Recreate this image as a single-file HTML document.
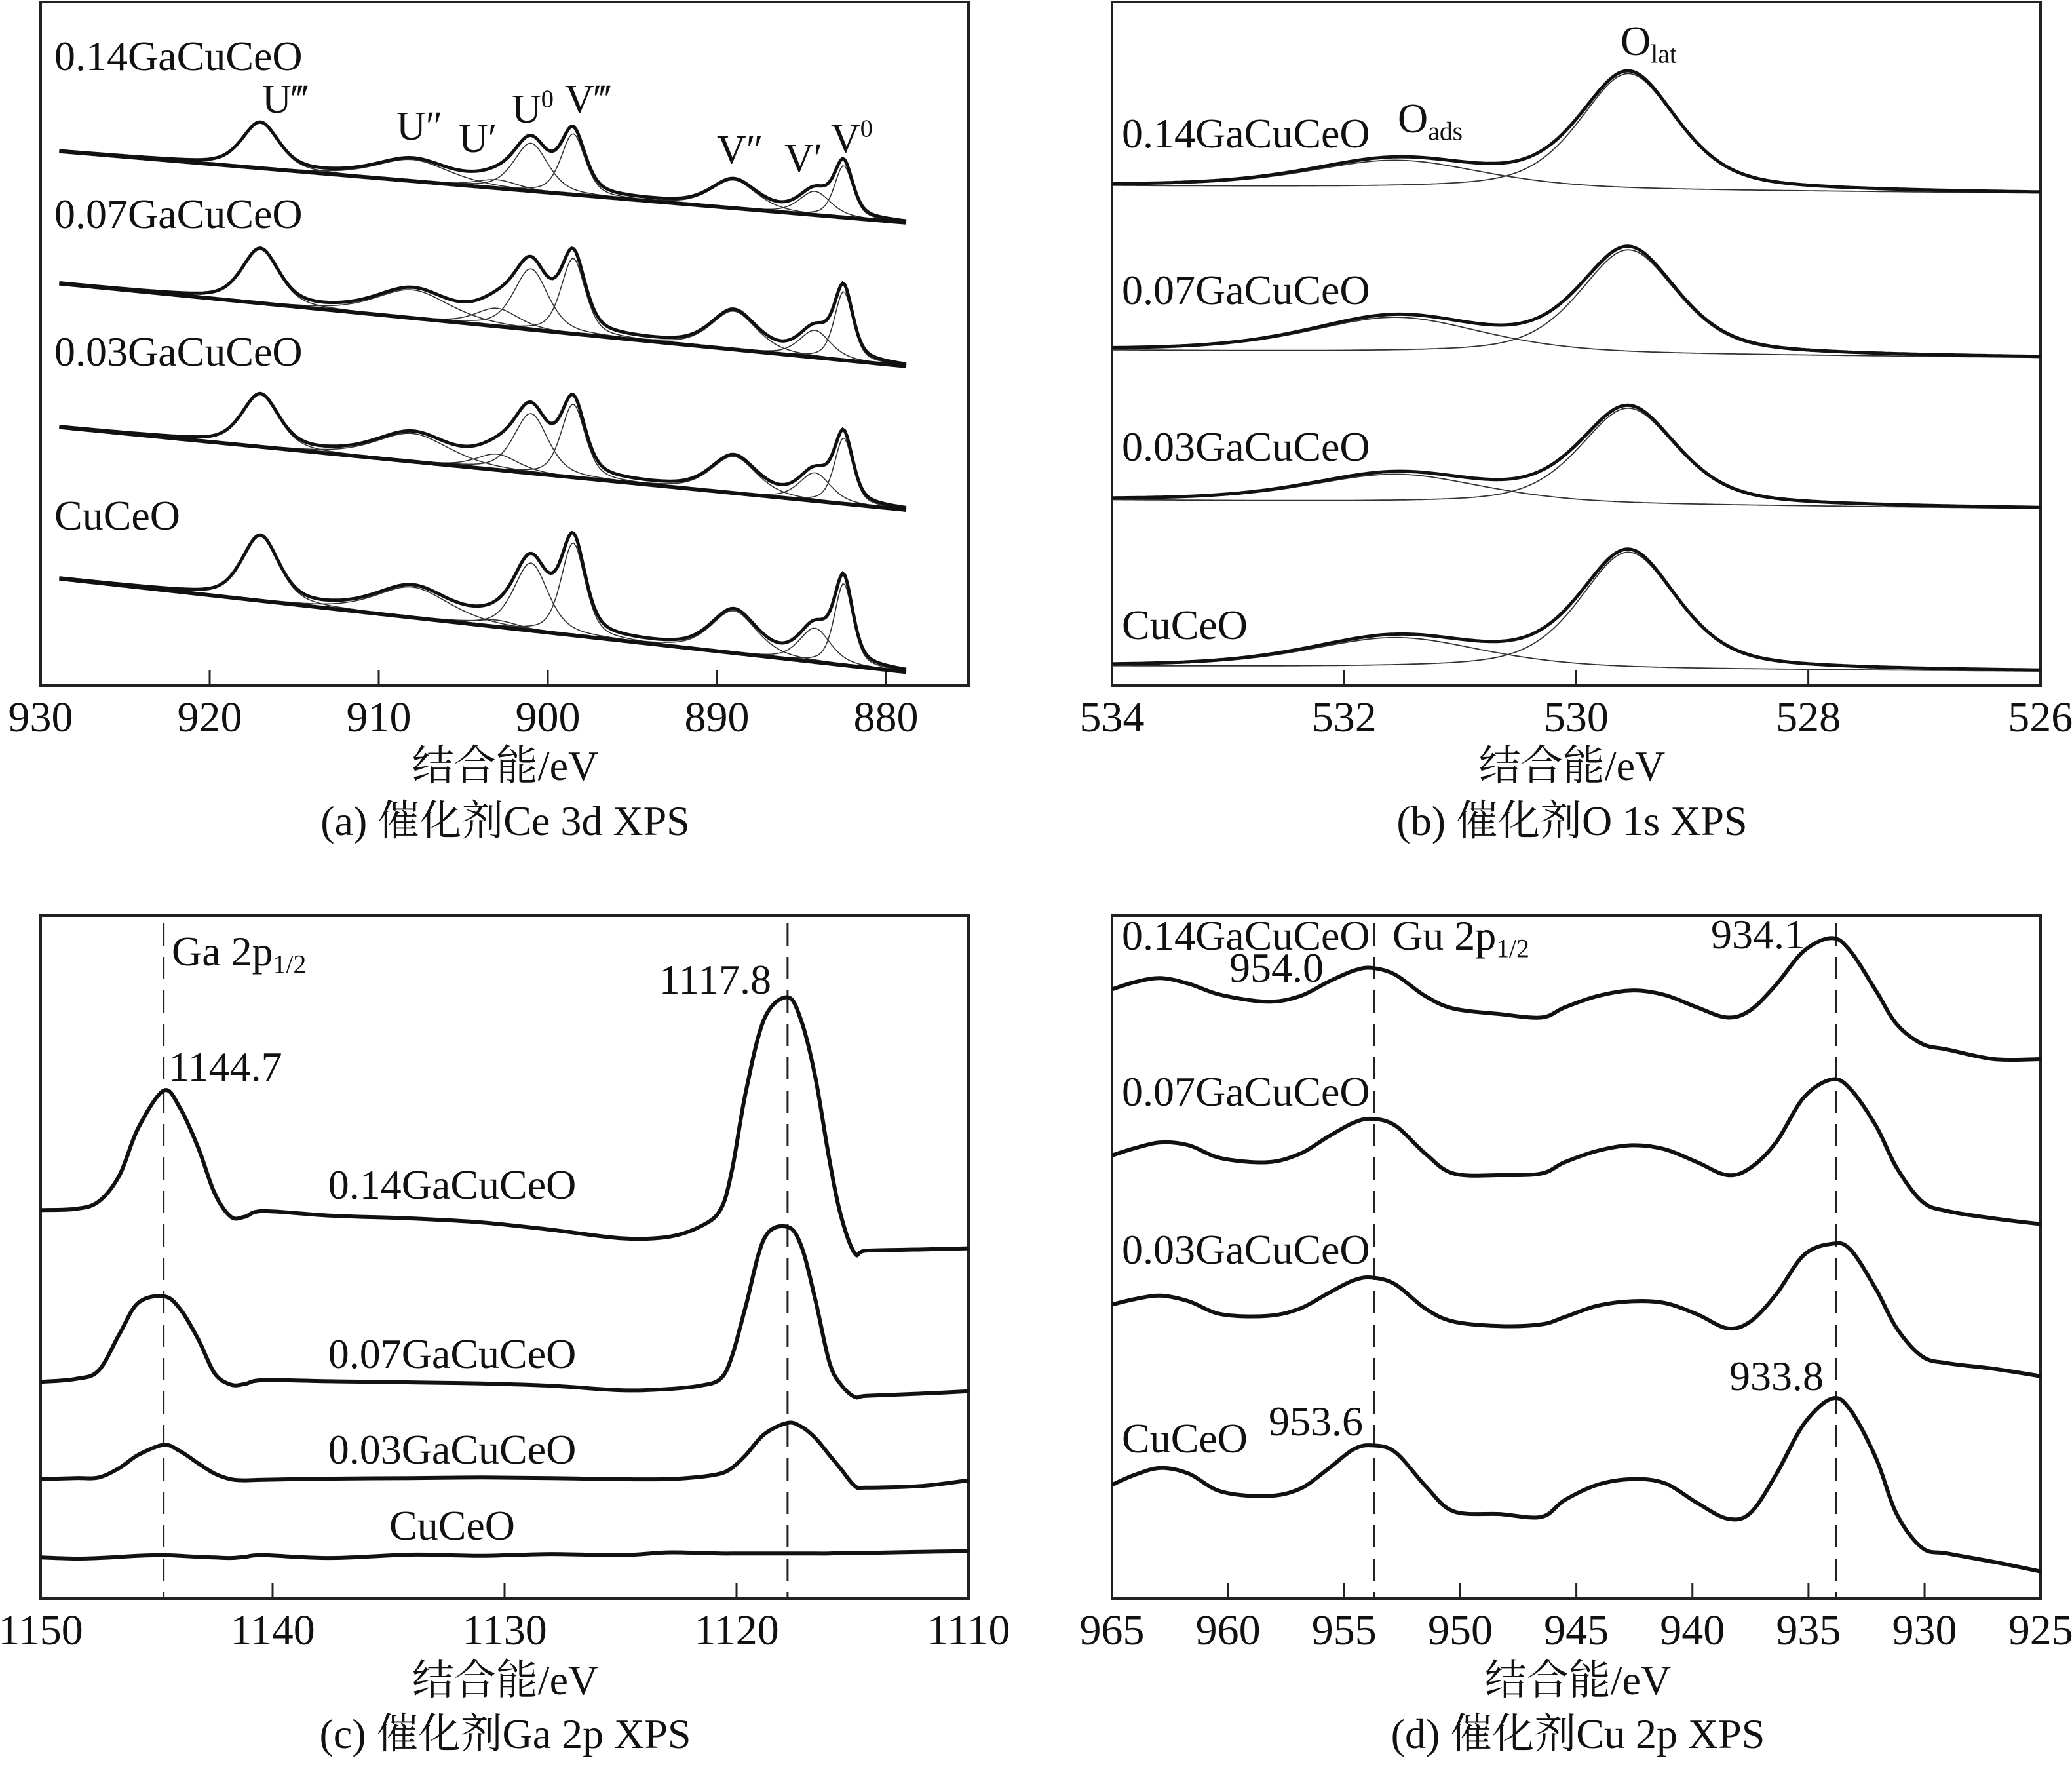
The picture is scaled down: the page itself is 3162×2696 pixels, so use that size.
<!DOCTYPE html>
<html><head><meta charset="utf-8">
<style>
html,body{margin:0;padding:0;background:#fff;}
svg{display:block;}
text{font-family:"Liberation Serif","Noto Serif CJK SC","Noto Sans CJK SC",serif;fill:#111;}
</style></head>
<body>
<svg id="fig" width="3162" height="2696" viewBox="0 0 3162 2696" xmlns="http://www.w3.org/2000/svg">
<g id="layer"></g>
</svg>
<script>
// ---------- Panel (a) Ce 3d ----------
const aCenters=[917.0,908.0,903.0,901.0,898.5,889.0,884.2,882.5];
const aWidths=[1.3,2.6,1.5,1.2,0.85,1.6,1.1,0.65];
const aNames=["0.14GaCuCeO","0.07GaCuCeO","0.03GaCuCeO","CuCeO"];
const aH014=[80,38,15,85,108,50,42,92];
const aH007=[95,50,32,108,134,68,48,122];
const aH003=[92,50,28,106,130,65,50,117];
const aHCu=[114,54,12,120,164,75,60,145];
const aBaseStart=[949,714,459,190];
const aBaseEnd=[822,567,312,24];
const aTicks=[930,920,910,900,890,880];
// ---------- Panel (b) O 1s ----------
const bNames=["0.14GaCuCeO","0.07GaCuCeO","0.03GaCuCeO","CuCeO"];
const bBaseStart=[887,595,329,34];
const bBaseEnd=[874,582,314,25];
const bAdsH=[50,63,51,54];
const bLatH=[207,186,172,208];
const bCenters=[531.55,529.55];
const bWidths=[0.9,0.5];
const bTicks=[534,532,530,528,526];
// ---------- Panel (c) Ga 2p ----------
const cE=[1150,1148.5,1147.5,1146.6,1145.8,1144.7,1144,1143.2,1142.5,1141.8,1141.2,1140.4,1137.5,1134,1131,1128,1125,1123,1121.6,1120.7,1120.2,1119.6,1118.8,1117.8,1117.2,1116.6,1116,1115.5,1114.9,1114.4,1112,1110];
const c014=[690,692,705,752,835,902,872,800,720,678,678,688,680,675,668,655,640,642,660,690,760,900,1030,1068,1025,925,780,680,613,618,620,622];
const c007=[385,390,405,470,525,537,515,460,400,380,381,388,386,384,382,378,370,372,378,390,430,520,640,660,625,530,420,380,358,360,364,368];
const c003=[212,214,215,232,255,273,262,240,222,212,210,211,213,214,215,214,212,212,216,222,232,255,292,312,305,285,255,230,200,197,200,210];
const cCu=[73,71,72,74,76,77,76,74,73,72,74,77,72,78,76,79,77,82,81,80,80,80,80,80,80,80,80,81,81,81,83,84];
const cTicks=[1150,1140,1130,1120,1110];
const cMarks=[1144.7,1117.8];
// ---------- Panel (d) Cu 2p ----------
const dE=[965,964,962.9,961.7,960.3,958.3,956.9,955.7,954.6,953.8,952.8,951.5,950.3,948.3,946.5,945.5,944.1,942.6,941.2,939.8,938.5,937.5,936.4,935.2,934.0,933.2,932.1,931.2,930.1,929,927,925];
const d014=[1082,1095,1102,1092,1072,1060,1070,1095,1115,1120,1108,1070,1048,1038,1032,1050,1070,1080,1072,1050,1032,1045,1090,1150,1173,1150,1080,1020,985,975,958,958];
const d007=[787,800,810,805,782,775,790,820,845,852,840,790,755,752,755,775,795,805,798,775,752,765,810,890,922,905,840,765,705,688,675,665];
const d003=[522,532,538,528,505,502,515,542,565,570,558,515,492,484,487,500,520,528,525,505,480,492,540,610,630,620,550,480,430,418,408,395];
const dCu=[202,220,232,222,190,182,195,230,265,272,260,200,155,150,145,175,202,212,205,170,142,152,220,310,355,335,250,150,90,80,65,48];
const dTicks=[965,960,955,950,945,940,935,930,925];
const dMarks=[953.7,933.8];

const NS="http://www.w3.org/2000/svg";
const layer=document.getElementById('layer');
function el(tag,attrs,parent){const e=document.createElementNS(NS,tag);for(const k in attrs)e.setAttribute(k,attrs[k]);(parent||layer).appendChild(e);return e;}
function pv(E,c,w,h){const u=(E-c)/w;return h*(0.5*Math.exp(-Math.LN2*u*u)+0.5/(1+u*u));}
function linePath(pts){return pts.map((p,i)=>(i?'L':'M')+p[0].toFixed(1)+' '+p[1].toFixed(1)).join(' ');}
function smoothPath(pts){let d='M'+pts[0][0].toFixed(1)+' '+pts[0][1].toFixed(1);for(let i=0;i<pts.length-1;i++){const p0=pts[i-1]||pts[i],p1=pts[i],p2=pts[i+1],p3=pts[i+2]||p2;const c1=[p1[0]+(p2[0]-p0[0])/6,p1[1]+(p2[1]-p0[1])/6],c2=[p2[0]-(p3[0]-p1[0])/6,p2[1]-(p3[1]-p1[1])/6];d+=' C'+c1[0].toFixed(1)+' '+c1[1].toFixed(1)+' '+c2[0].toFixed(1)+' '+c2[1].toFixed(1)+' '+p2[0].toFixed(1)+' '+p2[1].toFixed(1);}return d;}
function txt(parent,x,y,s,size,anchor){const t=el('text',{x:x,y:y,'font-size':size,'text-anchor':anchor||'start'},parent);t.textContent=s;return t;}
function sub(parent,x,y,main,subs,size,name,supMode){const t=el('text',{x:x,y:y,'font-size':size},parent);const a=el('tspan',{},t);a.textContent=main;const b=el('tspan',{'font-size':size*0.62,dy:supMode?-size*0.38:size*0.18},t);b.textContent=subs;return t;}

function frame(g,L,T,R,B,ticks,xs,name){
  const r=el('rect',{x:L,y:T,width:R-L,height:B-T,fill:'none',stroke:'#222','stroke-width':4},g);
  
  ticks.forEach(v=>{const x=xs(v);
    const tk=el('line',{x1:x,y1:B,x2:x,y2:B-24,stroke:'#222','stroke-width':3},g);
    
    const tl=txt(g,x,B+70,String(v),66,'middle');
    });
}
function titles(g,cx,y1,y2,cap){
  const t=txt(g,cx,y1,'结合能/eV',64,'middle');
  const c=txt(g,cx,y2,cap,64,'middle');
}

// ===== Panel a =====
(function(){
  const g=el('g',{});
  const L=62,T=3,R=1478,B=1046;
  const xs=E=>L+(930-E)*25.8; const ys=v=>B-v/1.164;
  frame(g,L,T,R,B,aTicks,xs,'panel-a');
  const heights=[aH014,aH007,aH003,aHCu];
  const E0=928.9,E1=878.8;
  heights.forEach((H,si)=>{
    const sg=el('g',{},g);
    const base=E=>aBaseStart[si]+(aBaseEnd[si]-aBaseStart[si])*(E0-E)/(E0-E1);
    const N=400,env=[],bl=[];
    for(let i=0;i<=N;i++){const E=E0-(E0-E1)*i/N;let s=base(E);aCenters.forEach((c,k)=>{s+=pv(E,c,aWidths[k],H[k]);});env.push([xs(E),ys(s)]);bl.push([xs(E),ys(base(E))]);}
    aCenters.forEach((c,k)=>{const pts=[];for(let i=0;i<=N;i++){const E=E0-(E0-E1)*i/N;const v=pv(E,c,aWidths[k],H[k]);if(v>1.5)pts.push([xs(E),ys(base(E)+v)]);}
      if(pts.length>1){const p=el('path',{d:linePath(pts),fill:'none',stroke:'#333','stroke-width':1.6},sg);}});
    const b=el('path',{d:linePath(bl),fill:'none',stroke:'#111','stroke-width':6},sg);
    const e=el('path',{d:linePath(env),fill:'none',stroke:'#111','stroke-width':5},sg);
  });
  [[83,107,'0.14GaCuCeO'],[83,348,'0.07GaCuCeO'],[83,558,'0.03GaCuCeO'],[83,808,'CuCeO']].forEach(d=>{const t=txt(g,d[0],d[1],d[2],64);});
  [[400,172,'U‴'],[605,213,'U″'],[700,232,'U′'],[862,172,'V‴'],[1094,249,'V″'],[1197,262,'V′']].forEach(d=>{const t=txt(g,d[0],d[1],d[2],62);});
  sub(g,781,187,'U','0',62,'peak-label-u0',true);
  sub(g,1268,232,'V','0',62,'peak-label-v0',true);
  titles(g,771,1190,1274,'(a) 催化剂Ce 3d XPS');
})();

// ===== Panel b =====
(function(){
  const g=el('g',{});
  const L=1697,T=3,R=3114,B=1046;
  const xs=E=>L+(534-E)*177.1; const ys=v=>B-v/1.164;
  frame(g,L,T,R,B,bTicks,xs,'panel-b');
  bNames.forEach((n,si)=>{
    const sg=el('g',{},g);
    const base=E=>bBaseStart[si]+(bBaseEnd[si]-bBaseStart[si])*(534-E)/8;
    const N=400,env=[],c1=[],c2=[];
    for(let i=0;i<=N;i++){const E=534-8*i/N;const a=pv(E,bCenters[0],bWidths[0],bAdsH[si]),l=pv(E,bCenters[1],bWidths[1],bLatH[si]);const bb=base(E);
      env.push([xs(E),ys(bb+a+l)]);c1.push([xs(E),ys(bb+a)]);c2.push([xs(E),ys(bb+l)]);}
    const p1=el('path',{d:linePath(c1),fill:'none',stroke:'#333','stroke-width':1.8},sg);
    const p2=el('path',{d:linePath(c2),fill:'none',stroke:'#333','stroke-width':1.8},sg);
    const e=el('path',{d:linePath(env),fill:'none',stroke:'#111','stroke-width':5},sg);
  });
  [[1712,225,'0.14GaCuCeO'],[1712,464,'0.07GaCuCeO'],[1712,703,'0.03GaCuCeO'],[1712,975,'CuCeO']].forEach(d=>{const t=txt(g,d[0],d[1],d[2],64);});
  sub(g,2133,202,'O','ads',64,'o-ads-label',false);
  sub(g,2473,84,'O','lat',64,'o-lat-label',false);
  titles(g,2399,1190,1274,'(b) 催化剂O 1s XPS');
})();

// ===== Panel c =====
(function(){
  const g=el('g',{});
  const L=62,T=1397,R=1478,B=2439;
  const xs=E=>L+(1150-E)*35.4; const ys=v=>B-v/1.164;
  cMarks.forEach(m=>{const l=el('line',{x1:xs(m),y1:T+12,x2:xs(m),y2:B,stroke:'#222','stroke-width':3,'stroke-dasharray':'34 17'},g);});
  frame(g,L,T,R,B,cTicks,xs,'panel-c');
  [c014,c007,c003,cCu].forEach((s,si)=>{const pts=cE.map((E,i)=>[xs(E),ys(s[i])]);
    const p=el('path',{d:smoothPath(pts),fill:'none',stroke:'#111','stroke-width':6,'stroke-linejoin':'round'},g);
    });
  [[690,1829,'0.14GaCuCeO'],[690,2087,'0.07GaCuCeO'],[690,2233,'0.03GaCuCeO'],[690,2349,'CuCeO']].forEach(d=>{const t=txt(g,d[0],d[1],d[2],64,'middle');});
  sub(g,262,1473,'Ga 2p','1/2',64,'ga-2p-label',false);
  const a=txt(g,257,1649,'1144.7',64);
  const b=txt(g,1177,1516,'1117.8',64,'end');
  titles(g,771,2585,2667,'(c) 催化剂Ga 2p XPS');
})();

// ===== Panel d =====
(function(){
  const g=el('g',{});
  const L=1697,T=1397,R=3114,B=2439;
  const xs=E=>L+(965-E)*35.43; const ys=v=>B-v/1.164;
  dMarks.forEach(m=>{const l=el('line',{x1:xs(m),y1:T+12,x2:xs(m),y2:B,stroke:'#222','stroke-width':3,'stroke-dasharray':'34 17'},g);});
  frame(g,L,T,R,B,dTicks,xs,'panel-d');
  [d014,d007,d003,dCu].forEach((s,si)=>{const pts=dE.map((E,i)=>[xs(E),ys(s[i])]);
    const p=el('path',{d:smoothPath(pts),fill:'none',stroke:'#111','stroke-width':6,'stroke-linejoin':'round'},g);
    });
  [[1712,1449,'0.14GaCuCeO'],[1712,1687,'0.07GaCuCeO'],[1712,1928,'0.03GaCuCeO'],[1712,2216,'CuCeO']].forEach(d=>{const t=txt(g,d[0],d[1],d[2],64);});
  sub(g,2125,1449,'Gu 2p','1/2',64,'cu-2p-label',false);
  [[2020,1498,'954.0'],[2755,1447,'934.1'],[2080,2190,'953.6'],[2783,2121,'933.8']].forEach(d=>{const t=txt(g,d[0],d[1],d[2],64,'end');});
  titles(g,2408,2585,2667,'(d) 催化剂Cu 2p XPS');
})();
</script>
</body></html>
